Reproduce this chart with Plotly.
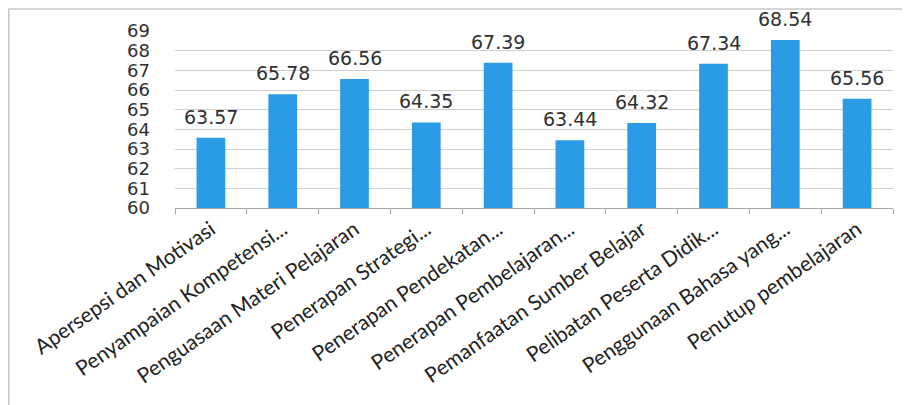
import plotly.graph_objects as go

categories = [
    "Apersepsi dan Motivasi",
    "Penyampaian Kompetensi...",
    "Penguasaan Materi Pelajaran",
    "Penerapan Strategi...",
    "Penerapan Pendekatan...",
    "Penerapan Pembelajaran...",
    "Pemanfaatan Sumber Belajar",
    "Pelibatan Peserta Didik...",
    "Penggunaan Bahasa yang...",
    "Penutup pembelajaran",
]
values = [63.57, 65.78, 66.56, 64.35, 67.39, 63.44, 64.32, 67.34, 68.54, 65.56]
y_ticks = [60, 61, 62, 63, 64, 65, 66, 67, 68, 69]

# page body has an 8px margin, so the figure is drawn at (8, 8)
W, H = 902, 397
L, R, T, B = 167, 17, 23, 197
pw, ph = W - L - R, H - T - B

fig = go.Figure(go.Bar(
    x=categories, y=values,
    marker=dict(color="#2b9be6", line=dict(width=0)),
    cliponaxis=False,
))

for c, v in zip(categories, values):
    fig.add_annotation(
        x=c, y=v, text=f"{v:.2f}", showarrow=False,
        yanchor="bottom", yshift=8,
        font=dict(family="DejaVu Sans", size=19, color="#303030"),
    )

def px_x(p):
    return (p - L) / pw

def px_y(p):
    return (H - B - p) / ph

fig.update_layout(
    width=W, height=H,
    margin=dict(l=L, r=R, t=T, b=B, autoexpand=False),
    paper_bgcolor="white", plot_bgcolor="white",
    bargap=0.6,
    showlegend=False,
    xaxis=dict(
        tickangle=-35,
        tickfont=dict(family="Lato", size=21, color="#222222"),
        showline=True, linecolor="#a8a8a8", linewidth=1,
        ticks="outside", tickson="boundaries", ticklen=5, tickcolor="#a8a8a8",
        showgrid=False, automargin=False,
    ),
    yaxis=dict(
        range=[60, 69],
        tickvals=y_ticks,
        tickfont=dict(family="DejaVu Sans", size=18, color="#303030"),
        showgrid=True, gridcolor="#cfcfcf", gridwidth=1,
        zeroline=False, showline=False, automargin=False,
        ticklabelstandoff=24,
    ),
    shapes=[
        dict(type="line", xref="paper", yref="paper",
             x0=px_x(0.75), x1=px_x(0.75), y0=px_y(1), y1=px_y(400),
             line=dict(color="#c8c8c8", width=1.5)),
        dict(type="line", xref="paper", yref="paper",
             x0=px_x(0.75), x1=px_x(905), y0=px_y(1), y1=px_y(1),
             line=dict(color="#c8c8c8", width=1.5)),
    ],
)

fig.write_html("out.html")
